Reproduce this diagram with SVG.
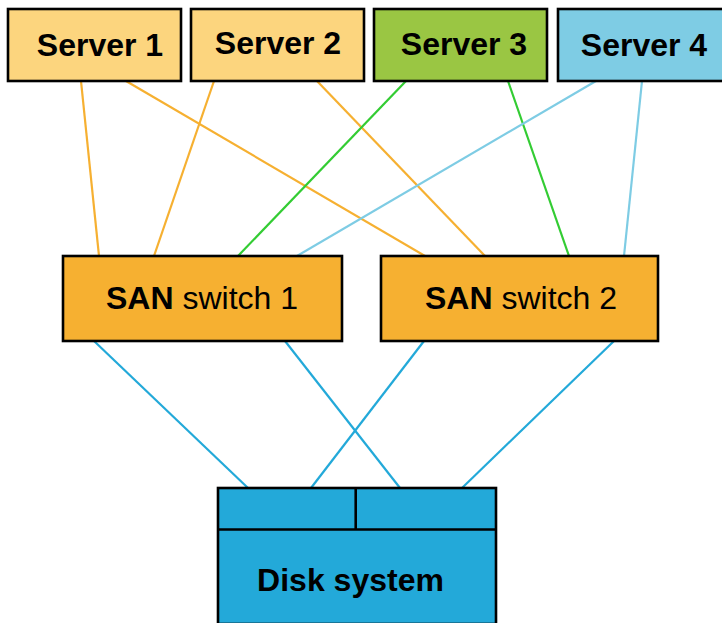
<svg xmlns="http://www.w3.org/2000/svg" width="722" height="623" viewBox="0 0 722 623">
<style>
.box{stroke:#000;stroke-width:2.6}
.t{font-family:"Liberation Sans",Arial,sans-serif;font-size:32px;fill:#000;text-anchor:middle}
.b{font-weight:bold}
.c{fill:none;stroke-width:2.2}
.or{stroke:#F6B031}.gr{stroke:#33CC33}.lb{stroke:#7ECCE4}.bl{stroke:#23A9D9}
</style>
<rect width="722" height="623" fill="#fff"/>
<g id="connectors">
<line class="c or" x1="81" y1="81" x2="99" y2="256"/>
<line class="c or" x1="126" y1="81" x2="425" y2="256"/>
<line class="c or" x1="214" y1="81" x2="154" y2="256"/>
<line class="c or" x1="317" y1="81" x2="485" y2="256"/>
<line class="c gr" x1="406" y1="81" x2="238" y2="256"/>
<line class="c gr" x1="508" y1="81" x2="569" y2="256"/>
<line class="c lb" x1="596" y1="81" x2="297" y2="256"/>
<line class="c lb" x1="642" y1="81" x2="624" y2="256"/>
<line class="c bl" x1="94" y1="341" x2="248" y2="488"/>
<line class="c bl" x1="285" y1="341" x2="400" y2="488"/>
<line class="c bl" x1="424" y1="341" x2="311" y2="488"/>
<line class="c bl" x1="614" y1="341" x2="462" y2="488"/>
</g>
<g id="server1">
<rect class="box" x="8" y="9" width="173" height="72" fill="#FCD57E"/>
<text class="t b" x="100" y="56">Server 1</text>
</g>
<g id="server2">
<rect class="box" x="191" y="9" width="173" height="72" fill="#FCD57E"/>
<text class="t b" x="278" y="54">Server 2</text>
</g>
<g id="server3">
<rect class="box" x="374" y="9" width="173" height="72" fill="#9AC643"/>
<text class="t b" x="464" y="55">Server 3</text>
</g>
<g id="server4">
<rect class="box" x="558" y="9" width="174" height="72" fill="#7ECCE4"/>
<text class="t b" x="644" y="56">Server 4</text>
</g>
<g id="switch1">
<rect class="box" x="63" y="256" width="279" height="85" fill="#F6B031"/>
<text class="t" x="202" y="309"><tspan class="b">SAN</tspan> switch 1</text>
</g>
<g id="switch2">
<rect class="box" x="381" y="256" width="277" height="85" fill="#F6B031"/>
<text class="t" x="521" y="309"><tspan class="b">SAN</tspan> switch 2</text>
</g>
<g id="disk">
<rect class="box" x="218" y="488" width="278" height="136" fill="#23A9D9"/>
<line class="box" x1="218" y1="529.5" x2="496" y2="529.5"/>
<line class="box" x1="355.7" y1="488" x2="355.7" y2="529.5"/>
<text class="t b" x="350.5" y="591">Disk system</text>
</g>
</svg>
